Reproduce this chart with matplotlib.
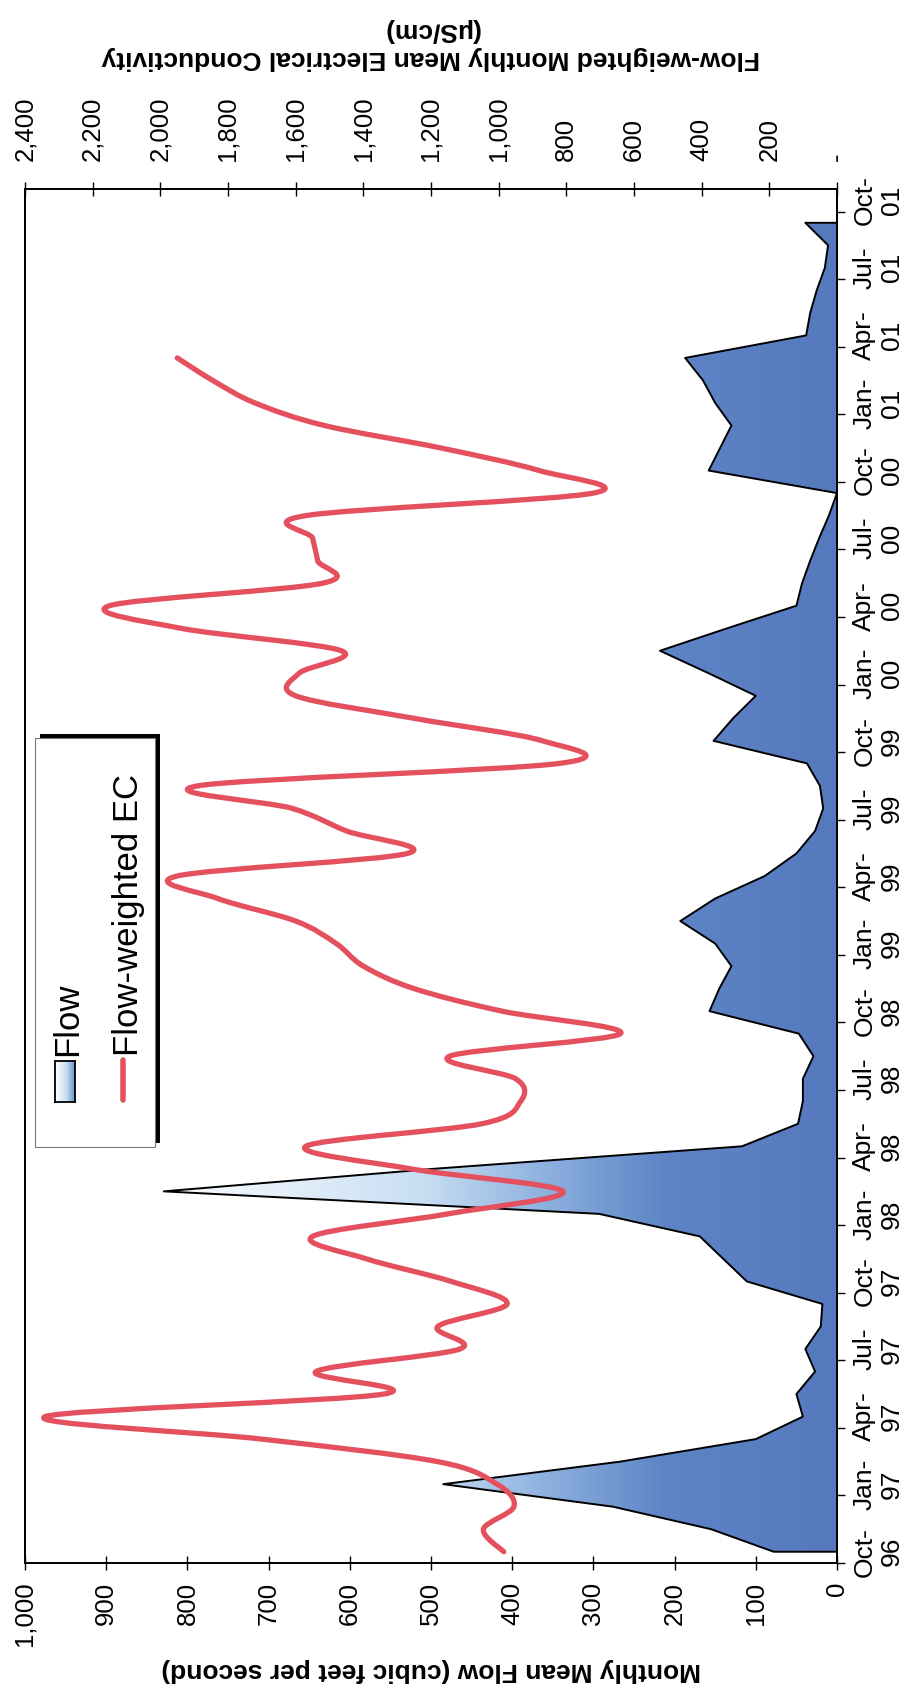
import numpy as np
import matplotlib
matplotlib.use('Agg')
import matplotlib.pyplot as plt
from matplotlib.path import Path
from matplotlib.patches import PathPatch, Rectangle
from matplotlib.colors import LinearSegmentedColormap
from matplotlib.lines import Line2D

plt.rcParams['font.family'] = ['Liberation Sans', 'DejaVu Sans']

W, H = 920, 1697

# monthly mean flow (cfs), Oct-96 .. Sep-01
flow = [78, 155, 276, 485, 267, 100, 42, 50, 27, 39, 20, 18,
        111, 140, 169, 293, 829, 497, 117, 48, 42, 42, 29, 47,
        157, 145, 130, 150, 193, 150, 89, 50, 27, 17, 21, 37,
        152, 128, 100, 158, 218, 135, 50, 43, 33, 22, 10, 0,
        158, 144, 130, 150, 165, 187, 38, 33, 25, 15, 11, 39]

# flow-weighted monthly mean EC (uS/cm), Oct-96 .. Mar-01
ec = [985, 1045, 955, 1005, 1180, 1700, 2340, 1340, 1540, 1115, 1180, 975,
      1140, 1390, 1550, 1150, 810, 1260, 1570, 1050, 935, 950, 1145, 640,
      990, 1250, 1400, 1480, 1600, 1830, 1950, 1270, 1450, 1610, 1890, 820,
      870, 1250, 1600, 1590, 1465, 1940, 2150, 1520, 1535, 1550, 1570, 720,
      880, 1170, 1515, 1720, 1845, 1950]

date_labels = ['Oct-\n96', 'Jan-\n97', 'Apr-\n97', 'Jul-\n97', 'Oct-\n97',
               'Jan-\n98', 'Apr-\n98', 'Jul-\n98', 'Oct-\n98', 'Jan-\n99',
               'Apr-\n99', 'Jul-\n99', 'Oct-\n99', 'Jan-\n00', 'Apr-\n00',
               'Jul-\n00', 'Oct-\n00', 'Jan-\n01', 'Apr-\n01', 'Jul-\n01',
               'Oct-\n01']

flow_ticks = [0, 100, 200, 300, 400, 500, 600, 700, 800, 900, 1000]
flow_tick_labels = ['0', '100', '200', '300', '400', '500', '600', '700',
                    '800', '900', '1,000']
ec_ticks = [0, 200, 400, 600, 800, 1000, 1200, 1400, 1600, 1800, 2000, 2200, 2400]
ec_tick_labels = ['-', '200', '400', '600', '800', '1,000', '1,200', '1,400',
                  '1,600', '1,800', '2,000', '2,200', '2,400']

red = '#e4505e'

fig = plt.figure(figsize=(9.2, 16.97), dpi=100)
ax = fig.add_axes([25 / W, 1 - 1563 / H, (837 - 25) / W, (1563 - 189) / H])

t_flow = np.arange(len(flow)) + 0.5
t_ec = np.arange(len(ec)) + 0.5

# flow area with gradient fill (light towards high flow)
poly = ax.fill_betweenx(t_flow, flow, 0, facecolor='none', edgecolor='black',
                        linewidth=1.4, zorder=3)
cmap = LinearSegmentedColormap.from_list(
    'flowgrad', [(0, '#5679bd'), (0.25, '#5e84c6'), (0.42, '#8cb0de'),
                 (0.6, '#c8def3'), (1, '#ffffff')])
grad = np.linspace(0, 1, 256).reshape(1, -1)
im = ax.imshow(grad, extent=[0, 850, 0, 61], aspect='auto', cmap=cmap,
               origin='lower', zorder=2, interpolation='bilinear')
im.set_clip_path(poly.get_paths()[0], transform=ax.transData)

ax.set_xlim(1000, 0)
ax.set_ylim(0, 61)
ax.set_xticks(flow_ticks)
ax.set_xticklabels(flow_tick_labels, rotation=90, fontsize=18.5)
ax.tick_params(axis='x', direction='inout', length=10, width=1, pad=8.5)

ax.yaxis.tick_right()
ax.set_yticks(np.arange(0, 61, 3))
ax.set_yticklabels([])
ax.set_yticks(np.arange(0, 61, 3) + 0.5, minor=True)
ax.set_yticklabels(date_labels, minor=True, rotation=90, fontsize=19,
                   va='center', ha='left', multialignment='center')
ax.tick_params(axis='y', which='major', direction='out', length=6, width=1)
ax.tick_params(axis='y', which='minor', length=0, pad=11)

for s in ax.spines.values():
    s.set_linewidth(1.3)
    s.set_color('black')

# EC on secondary (top) axis, smoothed line
ax2 = ax.twiny()
ax2.set_xlim(2400, 0)
ax2.set_ylim(0, 61)
ax2.set_xticks(ec_ticks)
ax2.set_xticklabels(ec_tick_labels, rotation=90, fontsize=18.5)
ax2.tick_params(axis='x', direction='inout', length=10, width=1, pad=15.5)
for s in ax2.spines.values():
    s.set_linewidth(1.3)

pts = np.column_stack([ec, t_ec]).astype(float)
P = np.vstack([pts[0], pts, pts[-1]])
verts = [pts[0]]
codes = [Path.MOVETO]
for i in range(1, len(P) - 2):
    p0, p1, p2, p3 = P[i - 1], P[i], P[i + 1], P[i + 2]
    verts += [p1 + (p2 - p0) / 6, p2 - (p3 - p1) / 6, p2]
    codes += [Path.CURVE4] * 3
ax2.add_patch(PathPatch(Path(verts, codes), facecolor='none', edgecolor=red,
                        linewidth=3.8, capstyle='round', joinstyle='round',
                        zorder=4))

# axis titles (chart is turned on its side)
fig.text(431 / W, 1 - 1670 / H, 'Monthly Mean Flow (cubic feet per second)',
         rotation=180, ha='center', va='center', fontsize=19, fontweight='bold')
fig.text(431 / W, 1 - 44 / H,
         'Flow-weighted Monthly Mean Electrical Conductivity\n(\u03bcS/cm)',
         rotation=180, ha='center', va='center', fontsize=19,
         fontweight='bold', linespacing=1.25, multialignment='center')


# legend drawn by hand
def fx(x):
    return x / W


def fy(y):
    return 1 - y / H


fig.add_artist(Rectangle((fx(40), fy(1143)), (160 - 40) / W, (1143 - 734) / H,
                         transform=fig.transFigure, facecolor='black',
                         edgecolor='none', zorder=5))
fig.add_artist(Rectangle((fx(35), fy(1147)), (155 - 35) / W, (1147 - 738) / H,
                         transform=fig.transFigure, facecolor='white',
                         edgecolor='#777777', linewidth=0.8, zorder=6))

lax = fig.add_axes([fx(55), fy(1102), 20 / W, 41 / H])
lax.set_zorder(7)
lax.imshow(np.linspace(1, 0.3, 64).reshape(1, -1), aspect='auto', cmap=cmap,
           vmin=0, vmax=1)
lax.set_xticks([])
lax.set_yticks([])
for s in lax.spines.values():
    s.set_linewidth(1.3)

fig.add_artist(Line2D([fx(123), fx(123)], [fy(1100), fy(1060)],
                      transform=fig.transFigure, color=red, linewidth=4.0,
                      solid_capstyle='round', zorder=8))
fig.text(fx(68), fy(1056), 'Flow', rotation=90, ha='center', va='bottom',
         fontsize=25, zorder=9)
fig.text(fx(129), fy(1056), 'Flow-weighted EC', rotation=90, ha='center',
         va='bottom', fontsize=25, zorder=9)

fig.savefig('out.png', dpi=100)
